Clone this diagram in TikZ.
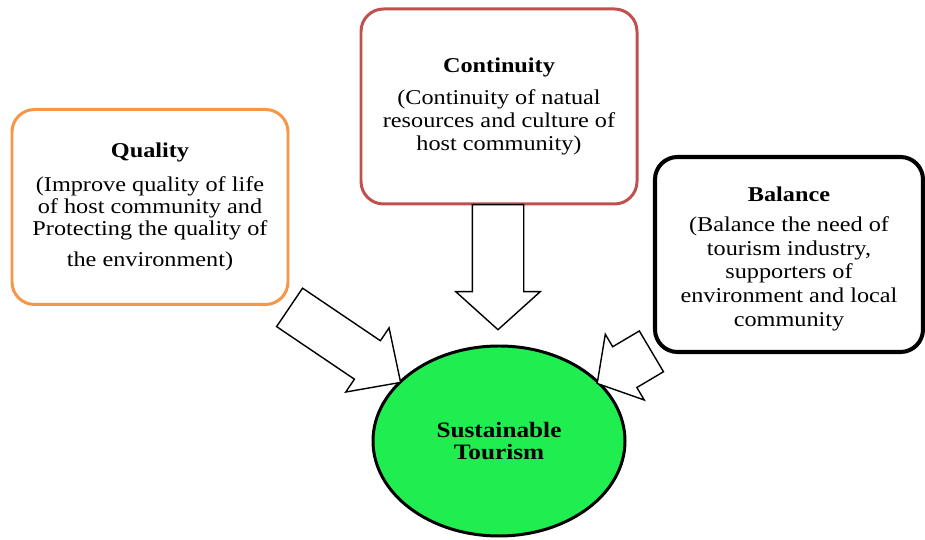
\documentclass[tikz,border=0pt]{standalone}
\usepackage{fontspec}
\setmainfont[FakeStretch=1.15]{Liberation Serif}
\usetikzlibrary{shapes.geometric,shapes.arrows}

\definecolor{qualityorange}{RGB}{247,150,70}
\definecolor{continuityred}{RGB}{192,80,77}
\definecolor{coregreen}{RGB}{32,238,80}

\begin{document}
\begin{tikzpicture}[
    idea_box/.style={rectangle,rounded corners=0.45cm,draw,line width=1.7pt,fill=white,
        minimum width=5.52cm,minimum height=3.9cm,align=center,inner sep=2pt,
        font=\fontsize{12}{13}\selectfont},
    core_node/.style={ellipse,draw,line width=1.7pt,fill=coregreen,
        minimum width=5.04cm,minimum height=3.8cm,align=center,
        font=\fontsize{12.5}{13}\selectfont\bfseries},
    block_arrow/.style={single arrow,draw,fill=white,line width=0.8pt,
        inner xsep=0pt,sloped,allow upside down,anchor=tail,pos=0}]

    \useasboundingbox (0,0) rectangle (18.5,10.8);

    % the three principles
    \node[idea_box,draw=qualityorange,font=\fontsize{12}{12.5}\selectfont] (quality) at (3.0,6.66)
        {\textbf{Quality}\\[7pt](Improve quality of life\\of host community and\\Protecting the quality of\\[5pt]the environment)};
    \node[idea_box,draw=continuityred] (continuity) at (9.98,8.67)
        {\textbf{Continuity}\\[5pt](Continuity of natual\\resources and culture of\\host community)};
    \node[idea_box,line width=2.3pt,minimum width=5.36cm,font=\fontsize{12}{13.4}\selectfont] (balance) at (15.78,5.71)
        {\rule{0pt}{13pt}\textbf{Balance}\\[4pt](Balance the need of\\tourism industry,\\supporters of\\environment and local\\community};

    \node[core_node] (tourism) at (9.98,1.98) {Sustainable\\Tourism};

    % arrow ends
    \coordinate (quality_tail) at (5.78,4.66);
    \coordinate (quality_tip) at (8.0,3.16);
    \coordinate (continuity_tail) at (9.96,6.72);
    \coordinate (continuity_tip) at (9.96,4.22);
    \coordinate (balance_tail) at (13.04,3.78);
    \coordinate (balance_tip) at (11.96,3.14);

    \path (quality_tail) -- node[block_arrow,minimum height=2.68cm,inner ysep=0.45cm,
        single arrow head extend=0.31cm,single arrow tip angle=88] {} (quality_tip);
    \path (continuity_tail) -- node[block_arrow,minimum height=2.5cm,inner ysep=0.5cm,
        single arrow head extend=0.33cm,single arrow tip angle=96] {} (continuity_tip);
    \path (balance_tail) -- node[block_arrow,minimum height=1.26cm,inner ysep=0.46cm,
        single arrow head extend=0.29cm,single arrow tip angle=100] {} (balance_tip);
\end{tikzpicture}
\end{document}
